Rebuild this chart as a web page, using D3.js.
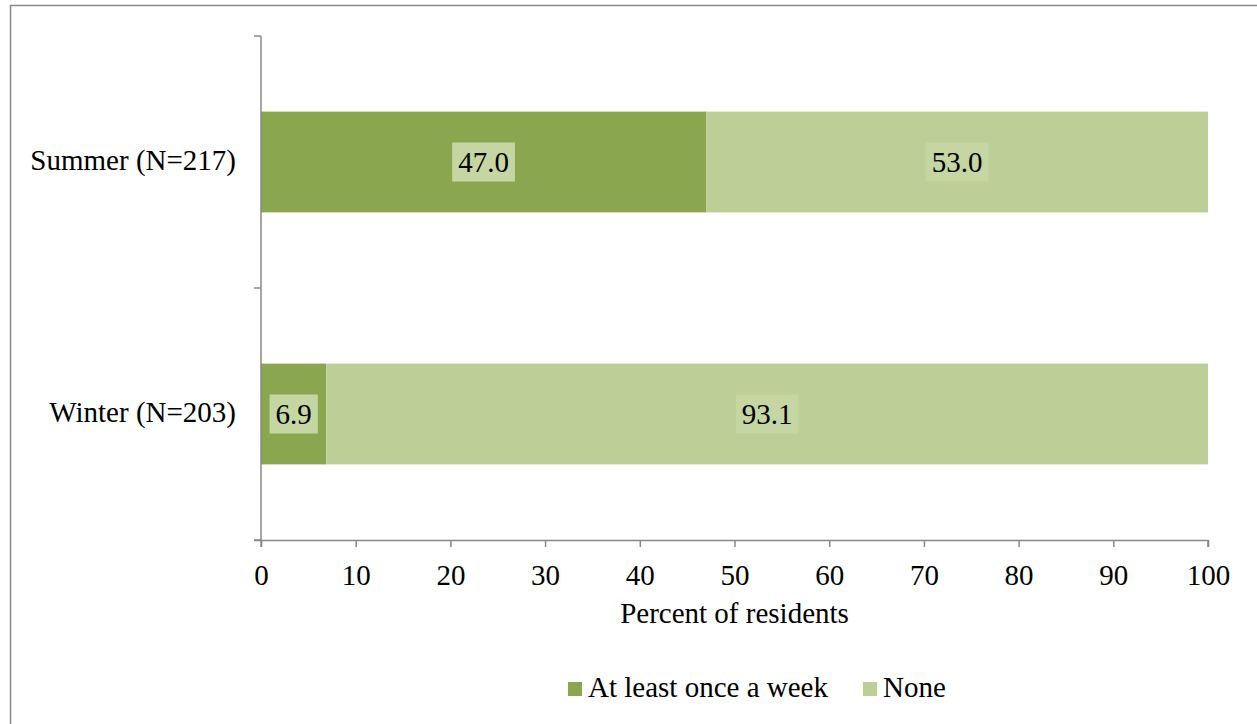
<!DOCTYPE html>
<html>
<head>
<meta charset="utf-8">
<script src="https://cdn.jsdelivr.net/npm/d3@7"></script>
<style>
  html, body { margin: 0; padding: 0; background: #fff; }
  svg { display: block; }
  text { font-family: "Liberation Serif", "Times New Roman", serif; fill: #000; }
</style>
</head>
<body>
<svg id="chart" width="1257" height="724"></svg>
<script>
// Share of residents by season
const categories = ["Summer (N=217)", "Winter (N=203)"];
const seriesNames = ["At least once a week", "None"];
const atLeastWeekly = [47.0, 6.9];
const none = [53.0, 93.1];
const xTicks = [0, 10, 20, 30, 40, 50, 60, 70, 80, 90, 100];
const xTitle = "Percent of residents";

const colors = ["#8aa64f", "#bbcf97"];
const labelBg = "#c5d6a3";
const fontSize = "29px";

const svg = d3.select("#chart");
const W = 1257, H = 724;

// Outer chart frame (only top and left edges fall inside the view)
svg.append("rect")
  .attr("x", 10.5).attr("y", 5.5)
  .attr("width", W + 20).attr("height", H + 20)
  .attr("fill", "none").attr("stroke", "#888").attr("stroke-width", 1.5);

const plot = { left: 261, right: 1208, top: 36, bottom: 540 };

const x = d3.scaleLinear().domain([0, 100]).range([plot.left, plot.right]);
const y = d3.scaleBand().domain(categories).range([plot.top, plot.bottom]).paddingInner(0.6).paddingOuter(0.3);

const rows = categories.map((c, i) => ({ cat: c, values: [atLeastWeekly[i], none[i]] }));
const stack = rows.map(r => {
  let acc = 0;
  return r.values.map((v, k) => { const s = { cat: r.cat, k, x0: acc, x1: acc + v, v }; acc += v; return s; });
}).flat();

// Bars
svg.append("g").selectAll("rect").data(stack).join("rect")
  .attr("x", d => x(d.x0))
  .attr("y", d => y(d.cat))
  .attr("width", d => x(d.x1) - x(d.x0))
  .attr("height", y.bandwidth())
  .attr("fill", d => colors[d.k]);

// Axes
const axisColor = "#888";
const xAxis = svg.append("g")
  .attr("transform", `translate(0,${plot.bottom})`)
  .call(d3.axisBottom(x).tickValues(xTicks).tickSize(7).tickFormat(d3.format("d")));
xAxis.select(".domain").attr("stroke", axisColor).attr("stroke-width", 1.5)
  .attr("d", `M${plot.left - 7},0.5H${plot.right}V7`);
xAxis.selectAll(".tick line").attr("stroke", axisColor).attr("stroke-width", 1.5);
xAxis.selectAll(".tick text")
  .attr("y", 45).attr("dy", "0")
  .style("font-size", fontSize).style("font-family", "Liberation Serif").attr("fill", "#000");

// Category boundaries on the vertical axis
const yEdges = [plot.top, (plot.top + plot.bottom) / 2, plot.bottom];
const yAxis = svg.append("g");
yAxis.append("line")
  .attr("x1", plot.left).attr("x2", plot.left)
  .attr("y1", plot.top).attr("y2", plot.bottom + 7)
  .attr("stroke", axisColor).attr("stroke-width", 1.5);
yAxis.selectAll("line.tick").data(yEdges).join("line").attr("class", "tick")
  .attr("x1", plot.left - 7).attr("x2", plot.left)
  .attr("y1", d => d).attr("y2", d => d)
  .attr("stroke", axisColor).attr("stroke-width", 1.5);
yAxis.selectAll("text").data(categories).join("text")
  .attr("x", plot.left - 25)
  .attr("y", d => y(d) + y.bandwidth() / 2 + 8)
  .attr("text-anchor", "end")
  .style("font-size", fontSize)
  .text(d => d);

// Axis title
svg.append("text")
  .attr("x", (plot.left + plot.right) / 2).attr("y", 623)
  .attr("text-anchor", "middle").style("font-size", fontSize)
  .text(xTitle);

// Value labels with filled background boxes
const labels = svg.append("g").selectAll("g").data(stack).join("g")
  .attr("transform", d => `translate(${(x(d.x0) + x(d.x1)) / 2},${y(d.cat) + y.bandwidth() / 2})`);
labels.append("text")
  .attr("text-anchor", "middle").attr("y", 9.5)
  .style("font-size", fontSize)
  .text(d => d.v.toFixed(1));
labels.each(function () {
  const g = d3.select(this);
  const b = g.select("text").node().getBBox();
  g.insert("rect", "text")
    .attr("x", b.x - 6).attr("y", -19.5)
    .attr("width", b.width + 12).attr("height", 39)
    .attr("fill", labelBg);
});

// Legend
const legend = svg.append("g");
const legendItems = [
  { name: seriesNames[0], color: colors[0], x: 568 },
  { name: seriesNames[1], color: colors[1], x: 863 }
];
const li = legend.selectAll("g").data(legendItems).join("g")
  .attr("transform", d => `translate(${d.x},682)`);
li.append("rect").attr("width", 14).attr("height", 14).attr("fill", d => d.color);
li.append("text").attr("x", 20).attr("y", 15)
  .style("font-size", fontSize).text(d => d.name);
</script>
</body>
</html>
